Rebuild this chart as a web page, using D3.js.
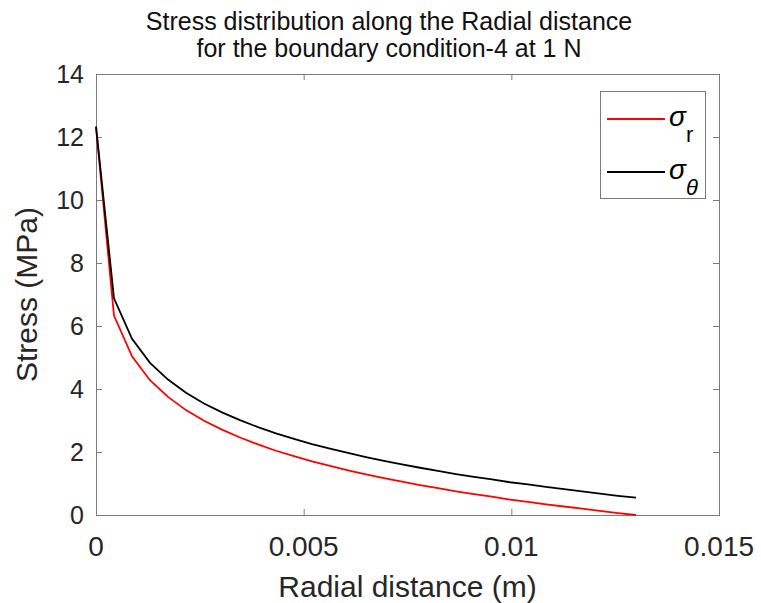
<!DOCTYPE html>
<html>
<head>
<meta charset="utf-8">
<script src="https://cdn.jsdelivr.net/npm/d3@7"></script>
<style>
  html, body { margin: 0; padding: 0; background: #fff; }
  svg { display: block; font-family: "Liberation Sans", Arial, sans-serif; }
</style>
</head>
<body>
<svg id="chart" width="761" height="603"></svg>
<script>
// Radial positions (m) of the solution nodes
const radius = [0, 0.000433, 0.000867, 0.0013, 0.001733, 0.002167, 0.0026, 0.003033, 0.003467, 0.0039,
  0.004333, 0.004767, 0.0052, 0.005633, 0.006067, 0.0065, 0.006933, 0.007367, 0.0078, 0.008233,
  0.008667, 0.0091, 0.009533, 0.009967, 0.0104, 0.010833, 0.011267, 0.0117, 0.012133, 0.012567, 0.013];

// Radial stress sigma_r (MPa)
const sigmaR = [12.33, 6.33, 5.04, 4.28, 3.75, 3.33, 2.99, 2.71, 2.46, 2.24,
  2.04, 1.87, 1.70, 1.56, 1.42, 1.29, 1.17, 1.06, 0.95, 0.85,
  0.75, 0.66, 0.58, 0.49, 0.42, 0.34, 0.27, 0.20, 0.13, 0.06, 0.00];

// Hoop stress sigma_theta (MPa)
const sigmaTheta = [12.33, 6.88, 5.59, 4.83, 4.30, 3.88, 3.54, 3.26, 3.01, 2.79,
  2.59, 2.42, 2.25, 2.11, 1.97, 1.84, 1.72, 1.61, 1.50, 1.40,
  1.30, 1.21, 1.13, 1.04, 0.97, 0.89, 0.82, 0.75, 0.68, 0.61, 0.55];

const xTicks = [0, 0.005, 0.01, 0.015];
const xTickLabels = ["0", "0.005", "0.01", "0.015"];
const yTicks = [0, 2, 4, 6, 8, 10, 12, 14];

const titleLines = ["Stress distribution along the Radial distance", "for the boundary condition-4 at 1 N"];

const svg = d3.select("#chart");
const plotLeft = 96, plotRight = 719, plotTop = 74, plotBottom = 515;
const axisColor = "#7a7a7a";

const x = d3.scaleLinear().domain([0, 0.015]).range([plotLeft, plotRight]);
const y = d3.scaleLinear().domain([0, 14]).range([plotBottom, plotTop]);

// Axes with inward ticks on all four sides
const tickLen = 6;
svg.append("g").attr("transform", `translate(0,${plotBottom})`)
  .call(d3.axisBottom(x).tickValues(xTicks).tickSize(-tickLen).tickFormat(""))
  .call(g => g.selectAll("line,path").attr("stroke", axisColor));
svg.append("g").attr("transform", `translate(0,${plotTop})`)
  .call(d3.axisTop(x).tickValues(xTicks).tickSize(-tickLen).tickFormat(""))
  .call(g => g.selectAll("line,path").attr("stroke", axisColor));
svg.append("g").attr("transform", `translate(${plotLeft},0)`)
  .call(d3.axisLeft(y).tickValues(yTicks).tickSize(-tickLen).tickFormat(""))
  .call(g => g.selectAll("line,path").attr("stroke", axisColor));
svg.append("g").attr("transform", `translate(${plotRight},0)`)
  .call(d3.axisRight(y).tickValues(yTicks).tickSize(-tickLen).tickFormat(""))
  .call(g => g.selectAll("line,path").attr("stroke", axisColor));

// Tick labels
svg.append("g").selectAll("text").data(xTicks).join("text")
  .attr("x", d => x(d)).attr("y", 556)
  .attr("text-anchor", "middle").attr("font-size", 28).attr("fill", "#262626")
  .text((d, i) => xTickLabels[i]);
svg.append("g").selectAll("text").data(yTicks).join("text")
  .attr("x", 84).attr("y", d => y(d)).attr("dy", "0.36em")
  .attr("text-anchor", "end").attr("font-size", 25).attr("fill", "#262626")
  .text(d => d);

// Axis titles
svg.append("text").attr("x", (plotLeft + plotRight) / 2).attr("y", 597)
  .attr("text-anchor", "middle").attr("font-size", 30).attr("fill", "#262626")
  .text("Radial distance (m)");
svg.append("text").attr("transform", `translate(37,${(plotTop + plotBottom) / 2}) rotate(-90)`)
  .attr("text-anchor", "middle").attr("font-size", 30).attr("fill", "#262626")
  .text("Stress (MPa)");

// Title
svg.append("g").selectAll("text").data(titleLines).join("text")
  .attr("x", 389).attr("y", (d, i) => 30 + i * 27)
  .attr("text-anchor", "middle").attr("font-size", 25).attr("fill", "#111")
  .text(d => d);

// Curves
const line = vals => d3.line().x((d, i) => x(radius[i])).y(d => y(d))(vals);
svg.append("path").attr("d", line(sigmaR))
  .attr("fill", "none").attr("stroke", "#ff0000").attr("stroke-width", 1.8);
svg.append("path").attr("d", line(sigmaTheta))
  .attr("fill", "none").attr("stroke", "#000000").attr("stroke-width", 1.8);

// Legend
const legend = svg.append("g");
legend.append("rect").attr("x", 600.5).attr("y", 91.5).attr("width", 105).attr("height", 107)
  .attr("fill", "#fff").attr("stroke", axisColor);
const entries = [
  { color: "#ff0000", sub: "r", subItalic: false, yy: 119 },
  { color: "#000000", sub: "\u03B8", subItalic: true, yy: 172 }
];
entries.forEach(e => {
  legend.append("line").attr("x1", 607).attr("x2", 665).attr("y1", e.yy).attr("y2", e.yy)
    .attr("stroke", e.color).attr("stroke-width", 1.8);
  const t = legend.append("text").attr("x", 669).attr("y", e.yy + 7)
    .attr("font-size", 28).attr("fill", "#000");
  t.append("tspan").attr("font-style", "italic").text("\u03C3");
  t.append("tspan").attr("font-size", 22).attr("dy", 16)
    .attr("font-style", e.subItalic ? "italic" : "normal").text(e.sub);
});
</script>
</body>
</html>
